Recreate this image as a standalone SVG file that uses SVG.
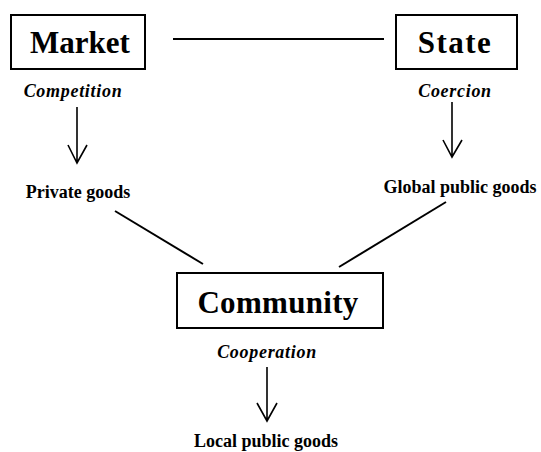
<svg xmlns="http://www.w3.org/2000/svg" width="541" height="452" viewBox="0 0 541 452">
<defs>
<style>
.box{fill:#fff;stroke:#000;stroke-width:2}
.title{font-family:"Liberation Serif","Times New Roman",serif;font-weight:bold;font-size:31px;fill:#000;text-anchor:middle}
.lab{font-family:"Liberation Serif","Times New Roman",serif;font-weight:bold;font-style:italic;font-size:18px;letter-spacing:0.7px;fill:#000;text-anchor:middle}
.goods{font-family:"Liberation Serif","Times New Roman",serif;font-weight:bold;font-size:18px;fill:#000;text-anchor:middle}
.ln{stroke:#000;stroke-width:2;fill:none}
.arr{stroke:#000;stroke-width:1.6;fill:none}
</style>
</defs>
<rect width="541" height="452" fill="#fff"/>
<g id="connectors">
<line class="ln" x1="173" y1="39" x2="384" y2="39"/>
<line class="ln" x1="115" y1="211" x2="203" y2="264"/>
<line class="ln" x1="446" y1="202" x2="339" y2="267"/>
<path class="arr" d="M77 107V163M68 145L77 163L87 145"/>
<path class="arr" d="M452 102V157M443 140L452 157L462 140"/>
<path class="arr" d="M267 367V421M257 403L267 421L277 403"/>
</g>
<g id="market">
<rect class="box" x="11" y="15" width="134" height="54"/>
<text class="title" x="80" y="53">Market</text>
</g>
<g id="state">
<rect class="box" x="396" y="15" width="121" height="54"/>
<text class="title" x="455" y="53" letter-spacing="1.5">State</text>
</g>
<g id="community">
<rect class="box" x="177" y="273" width="206" height="55"/>
<text class="title" x="278" y="313" letter-spacing="0.3">Community</text>
</g>
<g id="labels">
<text class="lab" x="73" y="97">Competition</text>
<text class="lab" x="455" y="97">Coercion</text>
<text class="lab" x="267" y="358">Cooperation</text>
<text class="goods" x="78" y="198">Private goods</text>
<text class="goods" x="460" y="193">Global public goods</text>
<text class="goods" x="266" y="447">Local public goods</text>
</g>
</svg>
